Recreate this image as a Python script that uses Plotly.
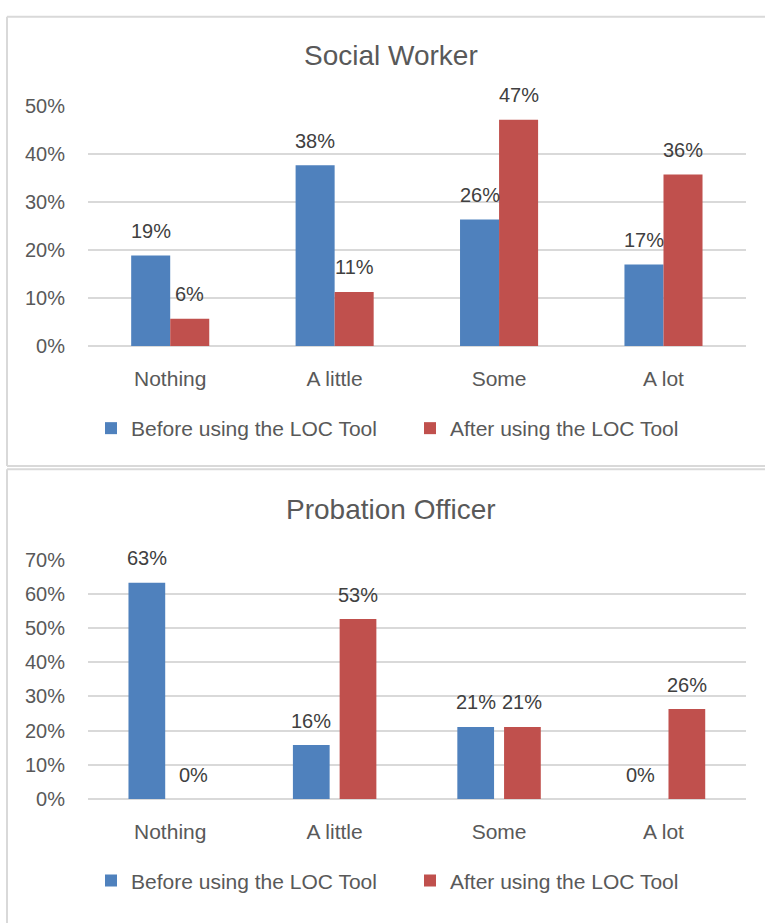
import plotly.graph_objects as go
from plotly.subplots import make_subplots

# ---------------- data ----------------
categories = ["Nothing", "A little", "Some", "A lot"]
series_names = ["Before using the LOC Tool", "After using the LOC Tool"]
chart_titles = ["Social Worker", "Probation Officer"]

sw_before = [0.189, 0.377, 0.264, 0.170]
sw_after = [0.057, 0.113, 0.472, 0.358]
po_before = [0.632, 0.158, 0.211, 0.000]
po_after = [0.000, 0.526, 0.211, 0.263]

sw_ticks = [0.0, 0.1, 0.2, 0.3, 0.4, 0.5]
po_ticks = [0.0, 0.1, 0.2, 0.3, 0.4, 0.5, 0.6, 0.7]

# ---------------- style ----------------
W, H = 765, 923
BLUE = "#4F81BD"
RED = "#C0504D"
GRID = "#D9D9D9"
TXT = "#595959"
LBL = "#404040"
FONT = "Liberation Sans"


def px_x(x):
    return x / W


def px_y(y):
    return 1 - y / H


# plot areas in pixels
X0, X1 = 88, 745.7
top_y = (97.7, 343.3)
bot_y = (562.0, 807.3)

# bar geometry (category units)
top_width, top_offsets = 0.2374, [-0.2374, 0.0]
bot_width, bot_offsets = 0.2234, [-0.2538, 0.0304]

fig = make_subplots(rows=2, cols=1)

panels = [
    (1, [sw_before, sw_after], top_width, top_offsets, sw_ticks, "legend"),
    (2, [po_before, po_after], bot_width, bot_offsets, po_ticks, "legend2"),
]

annotations = []
for row, series, bw, offs, ticks, leg in panels:
    for vals, name, col, off in zip(series, series_names, [BLUE, RED], offs):
        fig.add_trace(
            go.Bar(
                x=categories, y=vals, name=name, marker_color=col,
                marker_line_width=0, width=bw, offset=off,
                legend=leg, hoverinfo="skip",
            ),
            row=row, col=1,
        )
        xr = "x" if row == 1 else "x2"
        yr = "y" if row == 1 else "y2"
        for i, v in enumerate(vals):
            annotations.append(dict(
                x=i + off + bw / 2, y=v, xref=xr, yref=yr,
                text=f"{round(v * 100):d}%", showarrow=False,
                yanchor="middle", yshift=24.5,
                font=dict(family=FONT, size=20, color=LBL),
            ))

# chart titles
annotations.append(dict(x=px_x(390.5), y=px_y(46), xref="paper", yref="paper",
                        text=chart_titles[0], showarrow=False,
                        xanchor="center", yanchor="middle",
                        font=dict(family=FONT, size=28, color=TXT)))
annotations.append(dict(x=px_x(391), y=px_y(511), xref="paper", yref="paper",
                        text=chart_titles[1], showarrow=False,
                        xanchor="center", yanchor="middle",
                        font=dict(family=FONT, size=28, color=TXT)))

# panel borders
line = dict(color=GRID, width=2)
shapes = [
    dict(type="line", xref="paper", yref="paper", x0=px_x(7), x1=1.02, y0=px_y(6), y1=px_y(6), line=line),
    dict(type="line", xref="paper", yref="paper", x0=px_x(7), x1=px_x(7), y0=px_y(6), y1=px_y(466), line=line),
    dict(type="line", xref="paper", yref="paper", x0=px_x(7), x1=1.02, y0=px_y(466), y1=px_y(466), line=line),
    dict(type="line", xref="paper", yref="paper", x0=px_x(7), x1=1.02, y0=px_y(469.5), y1=px_y(469.5), line=line),
    dict(type="line", xref="paper", yref="paper", x0=px_x(7), x1=px_x(7), y0=px_y(469.5), y1=-0.02, line=line),
]

axis_x = dict(showgrid=False, showline=False, ticks="", zeroline=False,
              tickfont=dict(family=FONT, size=21, color=TXT),
              ticklabelstandoff=18, range=[-0.5, 3.5], fixedrange=True)

fig.update_layout(
    width=W, height=H,
    margin=dict(l=0, r=0, t=0, b=0),
    paper_bgcolor="white", plot_bgcolor="white",
    barmode="overlay",
    showlegend=True,
    annotations=annotations,
    shapes=shapes,
    xaxis=dict(domain=[px_x(X0), px_x(X1)], **axis_x),
    xaxis2=dict(domain=[px_x(X0), px_x(X1)], **axis_x),
    yaxis=dict(domain=[px_y(top_y[1]), px_y(top_y[0])], range=[0, 0.5],
               tickvals=sw_ticks, tickformat=".0%"),
    yaxis2=dict(domain=[px_y(bot_y[1]), px_y(bot_y[0])], range=[0, 0.7],
                tickvals=po_ticks, tickformat=".0%"),
    legend=dict(orientation="h", x=px_x(91), xanchor="left",
                y=px_y(427.7), yanchor="middle",
                font=dict(family=FONT, size=21, color=TXT),
                bgcolor="rgba(0,0,0,0)", entrywidth=274, entrywidthmode="pixels"),
    legend2=dict(orientation="h", x=px_x(91), xanchor="left",
                 y=px_y(891), yanchor="middle",
                 font=dict(family=FONT, size=21, color=TXT),
                 bgcolor="rgba(0,0,0,0)", entrywidth=274, entrywidthmode="pixels"),
)
for ax in ["yaxis", "yaxis2"]:
    fig.layout[ax].update(showgrid=True, gridcolor=GRID, gridwidth=1.5,
                          zeroline=True, zerolinecolor=GRID, zerolinewidth=1.5,
                          showline=False, ticks="",
                          tickfont=dict(family=FONT, size=20, color=TXT),
                          ticklabelstandoff=22, fixedrange=True)

fig.write_html(
    "out.html",
    config={"displayModeBar": False},
    post_script="document.body.style.margin='0';document.body.style.overflow='hidden';",
)
